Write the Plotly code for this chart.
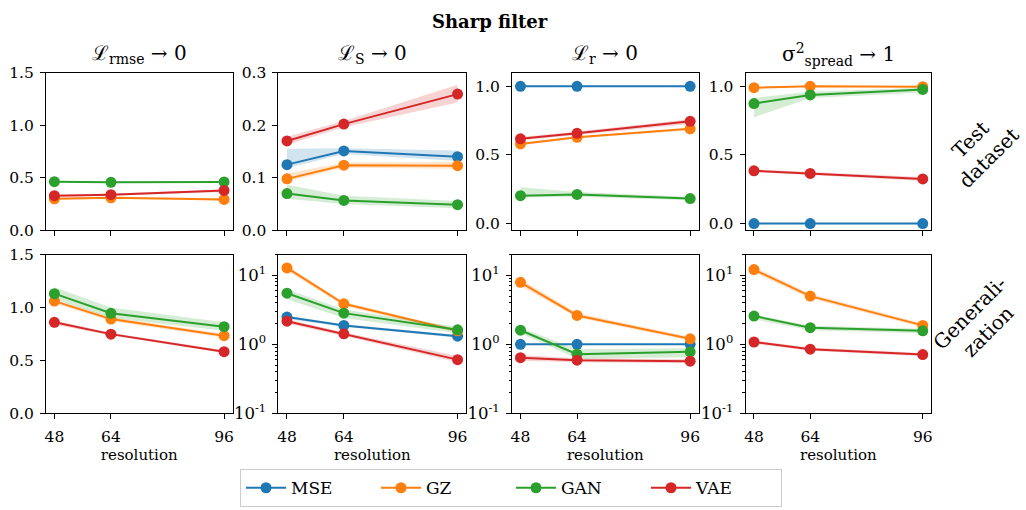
import plotly.graph_objects as go

W, H = 1026, 510

resolution = [48, 64, 96]
models = ["MSE", "GZ", "GAN", "VAE"]
colors = {"MSE": "#1f77b4", "GZ": "#ff7f0e", "GAN": "#2ca02c", "VAE": "#d62728"}

col_titles = ["ℒ<sub>rmse</sub> → 0", "ℒ<sub>S</sub> → 0", "ℒ<sub>r</sub> → 0",
              "σ<sup>2</sup><sub>spread</sub> → 1"]
row_titles = ["Test<br>dataset", "Generali-<br>zation"]
suptitle = "<b>Sharp filter</b>"

# ---- Test dataset row ----
rmse_test_mean = {"GZ": [0.30, 0.31, 0.295], "GAN": [0.463, 0.457, 0.46], "VAE": [0.33, 0.34, 0.38]}
rmse_test_lo = {"GZ": [0.29, 0.30, 0.285], "GAN": [0.455, 0.45, 0.45], "VAE": [0.32, 0.33, 0.365]}
rmse_test_hi = {"GZ": [0.31, 0.32, 0.305], "GAN": [0.47, 0.465, 0.47], "VAE": [0.34, 0.35, 0.39]}

ls_test_mean = {"MSE": [0.125, 0.151, 0.140], "GZ": [0.098, 0.124, 0.123],
                "GAN": [0.070, 0.057, 0.049], "VAE": [0.170, 0.202, 0.259]}
ls_test_lo = {"MSE": [0.118, 0.145, 0.132], "GZ": [0.093, 0.119, 0.117],
              "GAN": [0.060, 0.050, 0.042], "VAE": [0.163, 0.196, 0.243]}
ls_test_hi = {"MSE": [0.155, 0.156, 0.152], "GZ": [0.108, 0.129, 0.130],
              "GAN": [0.087, 0.066, 0.056], "VAE": [0.178, 0.208, 0.277]}

lr_test_mean = {"MSE": [1.0, 1.0, 1.0], "GZ": [0.58, 0.628, 0.69],
                "GAN": [0.203, 0.212, 0.182], "VAE": [0.617, 0.657, 0.745]}
lr_test_lo = {"MSE": [1.0, 1.0, 1.0], "GZ": [0.57, 0.62, 0.68],
              "GAN": [0.19, 0.195, 0.17], "VAE": [0.605, 0.645, 0.725]}
lr_test_hi = {"MSE": [1.0, 1.0, 1.0], "GZ": [0.59, 0.635, 0.70],
              "GAN": [0.265, 0.23, 0.195], "VAE": [0.63, 0.67, 0.76]}

sp_test_mean = {"MSE": [0.0, 0.0, 0.0], "GZ": [0.99, 1.0, 0.997],
                "GAN": [0.874, 0.937, 0.977], "VAE": [0.384, 0.365, 0.325]}
sp_test_lo = {"MSE": [0.0, 0.0, 0.0], "GZ": [0.985, 0.995, 0.99],
              "GAN": [0.775, 0.915, 0.955], "VAE": [0.375, 0.355, 0.31]}
sp_test_hi = {"MSE": [0.0, 0.0, 0.0], "GZ": [0.995, 1.005, 1.0],
              "GAN": [0.915, 0.96, 0.99], "VAE": [0.395, 0.375, 0.34]}

# ---- Generalization row ----
rmse_gen_mean = {"GZ": [1.06, 0.89, 0.733], "GAN": [1.13, 0.945, 0.818], "VAE": [0.86, 0.748, 0.582]}
rmse_gen_lo = {"GZ": [1.04, 0.87, 0.715], "GAN": [1.08, 0.90, 0.78], "VAE": [0.84, 0.735, 0.57]}
rmse_gen_hi = {"GZ": [1.08, 0.91, 0.75], "GAN": [1.19, 1.00, 0.86], "VAE": [0.88, 0.76, 0.595]}

ls_gen_mean = {"MSE": [2.48, 1.88, 1.31], "GZ": [12.8, 3.86, 1.57],
               "GAN": [5.5, 2.83, 1.62], "VAE": [2.16, 1.42, 0.60]}
ls_gen_lo = {"MSE": [2.3, 1.8, 1.25], "GZ": [11.5, 3.6, 1.48],
             "GAN": [4.5, 2.4, 1.45], "VAE": [2.0, 1.32, 0.55]}
ls_gen_hi = {"MSE": [2.6, 1.95, 1.38], "GZ": [14.0, 4.1, 1.65],
             "GAN": [6.3, 3.2, 1.8], "VAE": [2.3, 1.5, 0.68]}

lr_gen_mean = {"MSE": [1.0, 1.0, 1.0], "GZ": [7.9, 2.62, 1.2],
               "GAN": [1.6, 0.72, 0.78], "VAE": [0.64, 0.59, 0.57]}
lr_gen_lo = {"MSE": [1.0, 1.0, 1.0], "GZ": [7.0, 2.45, 1.13],
             "GAN": [1.45, 0.62, 0.65], "VAE": [0.58, 0.55, 0.53]}
lr_gen_hi = {"MSE": [1.0, 1.0, 1.0], "GZ": [8.8, 2.85, 1.28],
             "GAN": [1.75, 0.85, 0.88], "VAE": [0.70, 0.63, 0.61]}

sp_gen_mean = {"GZ": [12.1, 4.99, 1.88], "GAN": [2.57, 1.74, 1.57], "VAE": [1.08, 0.85, 0.71]}
sp_gen_lo = {"GZ": [11.0, 4.6, 1.75], "GAN": [2.3, 1.6, 1.45], "VAE": [1.02, 0.81, 0.67]}
sp_gen_hi = {"GZ": [13.3, 5.4, 2.0], "GAN": [2.7, 1.85, 1.68], "VAE": [1.14, 0.90, 0.75]}

panels = [
    [(rmse_test_mean, rmse_test_lo, rmse_test_hi), (ls_test_mean, ls_test_lo, ls_test_hi),
     (lr_test_mean, lr_test_lo, lr_test_hi), (sp_test_mean, sp_test_lo, sp_test_hi)],
    [(rmse_gen_mean, rmse_gen_lo, rmse_gen_hi), (ls_gen_mean, ls_gen_lo, ls_gen_hi),
     (lr_gen_mean, lr_gen_lo, lr_gen_hi), (sp_gen_mean, sp_gen_lo, sp_gen_hi)],
]

FONT = "DejaVu Serif"
col_px = [(45, 232), (278, 466), (512, 699), (746, 932)]
row_px = [(66, 230), (255, 420)]


def rgba(hexc, a):
    h = hexc.lstrip("#")
    return "rgba(%d,%d,%d,%s)" % (int(h[0:2], 16), int(h[2:4], 16), int(h[4:6], 16), a)


fig = go.Figure()
layout = {}
shown = set()
for r in range(2):
    for c in range(4):
        idx = r * 4 + c + 1
        xa = "x" if idx == 1 else "x%d" % idx
        ya = "y" if idx == 1 else "y%d" % idx
        mean, lo, hi = panels[r][c]
        for m in models:
            if m not in mean:
                continue
            fig.add_trace(go.Scatter(
                x=resolution + resolution[::-1], y=hi[m] + lo[m][::-1],
                fill="toself", fillcolor=rgba(colors[m], 0.2), line=dict(width=0),
                mode="lines", hoverinfo="skip", showlegend=False, xaxis=xa, yaxis=ya))
            fig.add_trace(go.Scatter(
                x=resolution, y=mean[m], mode="lines+markers", name=m,
                line=dict(color=colors[m], width=2), marker=dict(size=11, color=colors[m]),
                showlegend=(m not in shown), legendgroup=m, legendrank=models.index(m) + 1,
                xaxis=xa, yaxis=ya))
            shown.add(m)
        x0, x1 = col_px[c]
        y0, y1 = row_px[r]
        xkey = "xaxis" if idx == 1 else "xaxis%d" % idx
        ykey = "yaxis" if idx == 1 else "yaxis%d" % idx
        layout[xkey] = dict(
            domain=[x0 / W, x1 / W], anchor=ya, range=[45.6, 98.4],
            tickvals=resolution, ticktext=[str(v) for v in resolution] if r == 1 else ["", "", ""],
            ticks="outside", ticklen=5, tickcolor="black", showgrid=False, zeroline=False,
            showline=True, linecolor="black", linewidth=1, mirror=True, ticklabelstandoff=4,
            tickfont=dict(family=FONT, size=15.5, color="black"),
            title=dict(text="resolution", font=dict(family=FONT, size=15, color="black"), standoff=2) if r == 1 else None,
        )
        ydict = dict(
            domain=[1 - y1 / H, 1 - y0 / H], anchor=xa,
            ticks="outside", ticklen=5, tickcolor="black", showgrid=False, zeroline=False,
            showline=True, linecolor="black", linewidth=1, mirror=True, ticklabelstandoff=3,
            tickfont=dict(family=FONT, size=15.5, color="black"),
        )
        if c == 0:
            ydict.update(range=[0, 1.5], tickvals=[0, 0.5, 1.0, 1.5], ticktext=["0.0", "0.5", "1.0", "1.5"])
        elif r == 0 and c == 1:
            ydict.update(range=[0, 0.3], tickvals=[0, 0.1, 0.2, 0.3], ticktext=["0.0", "0.1", "0.2", "0.3"])
        elif r == 0:
            ydict.update(range=[-0.05, 1.1], tickvals=[0, 0.5, 1.0], ticktext=["0.0", "0.5", "1.0"])
        else:
            ydict.update(type="log", range=[-1, 1.301], tickvals=[0.1, 1, 10],
                         ticktext=["10<sup>-1</sup>", "10<sup>0</sup>", "10<sup>1</sup>"],
                         tickfont=dict(family=FONT, size=16.5, color="black"),
                         minor=dict(ticks="outside", ticklen=2.5, tickcolor="black", showgrid=False,
                                    tickvals=[0.2, 0.3, 0.4, 0.5, 0.6, 0.7, 0.8, 0.9,
                                              2, 3, 4, 5, 6, 7, 8, 9, 20]))
        layout[ykey] = ydict

annotations = []
for c in range(4):
    x0, x1 = col_px[c]
    annotations.append(dict(text=col_titles[c], x=(x0 + x1) / 2 / W, y=1 - 47 / H,
                            xref="paper", yref="paper", showarrow=False, xanchor="center", yanchor="middle",
                            font=dict(family=FONT, size=20, color="black")))
annotations.append(dict(text=suptitle, x=490 / W, y=1 - 13 / H, xref="paper", yref="paper",
                        showarrow=False, xanchor="center", yanchor="middle",
                        font=dict(family=FONT, size=18, color="black")))
row_centers = [(980, 145), (980, 325)]
for r in range(2):
    cx, cy = row_centers[r]
    annotations.append(dict(text=row_titles[r], x=cx / W, y=1 - cy / H, xref="paper", yref="paper",
                            showarrow=False, xanchor="center", yanchor="middle", textangle=-45,
                            font=dict(family=FONT, size=20, color="black")))

fig.update_layout(
    width=W, height=H, margin=dict(l=0, r=0, t=0, b=0),
    plot_bgcolor="white", paper_bgcolor="white",
    annotations=annotations,
    legend=dict(orientation="h", x=511 / W, xanchor="center", y=1 - 478 / H, yanchor="top",
                bordercolor="#cccccc", borderwidth=1, bgcolor="white",
                font=dict(family=FONT, size=17, color="black"), entrywidth=80, itemwidth=40,
                traceorder="normal"),
    **layout,
)

fig.write_html("out.html")
